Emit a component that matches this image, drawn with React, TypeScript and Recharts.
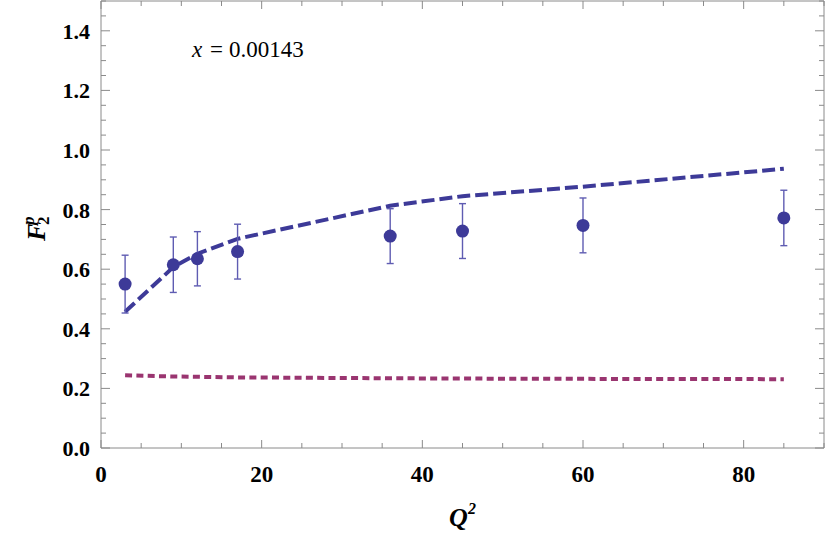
import {
  ComposedChart,
  Line,
  Scatter,
  ErrorBar,
  XAxis,
  YAxis,
  ReferenceLine,
} from "recharts";

const BLUE = "#3d3a98";
const BAR = "#5f5cb2";
const PLUM = "#9a3570";
const FRAME = "#8a8a8a";
const SERIF = "Liberation Serif, DejaVu Serif, Times New Roman, Times, serif";

// plot box in page pixels
const LEFT = 101;
const RIGHT = 824;
const TOP = 1;
const BOTTOM = 448;

const Q2 = [3, 9, 12, 17, 36, 45, 60, 85];
const F2 = [0.55, 0.615, 0.635, 0.659, 0.711, 0.728, 0.747, 0.772];
const F2_ERR = [0.097, 0.093, 0.091, 0.092, 0.092, 0.092, 0.092, 0.093];
const FIT = [0.457, 0.607, 0.652, 0.702, 0.813, 0.845, 0.877, 0.937];
const LOW = [0.244, 0.24, 0.239, 0.237, 0.234, 0.233, 0.232, 0.231];

const X_TICKS = [0, 5, 10, 15, 20, 25, 30, 35, 40, 45, 50, 55, 60, 65, 70, 75, 80, 85, 90];
const X_LABELS = [0, 20, 40, 60, 80];
const Y_TICKS = [
  0, 0.05, 0.1, 0.15, 0.2, 0.25, 0.3, 0.35, 0.4, 0.45, 0.5, 0.55, 0.6, 0.65, 0.7, 0.75,
  0.8, 0.85, 0.9, 0.95, 1.0, 1.05, 1.1, 1.15, 1.2, 1.25, 1.3, 1.35, 1.4, 1.45, 1.5,
];
const Y_LABELS = [0, 0.2, 0.4, 0.6, 0.8, 1.0, 1.2, 1.4];

const rows = Q2.map((q, i) => ({ q2: q, f2: F2[i], err: F2_ERR[i], fit: FIT[i], low: LOW[i] }));

const bold = { fontFamily: SERIF, fontWeight: 700 } as const;

function XTick(props: any) {
  const { x, payload } = props;
  const major = X_LABELS.includes(payload.value);
  const len = major ? 8 : 5;
  return (
    <g>
      <line x1={x} x2={x} y1={BOTTOM} y2={BOTTOM - len} stroke={FRAME} />
      <line x1={x} x2={x} y1={TOP} y2={TOP + len} stroke={FRAME} />
      {major && (
        <text x={x} y={BOTTOM + 34} textAnchor="middle" style={{ ...bold, fontSize: 23 }} fill="#000">
          {payload.value}
        </text>
      )}
    </g>
  );
}

function YTick(props: any) {
  const { y, payload } = props;
  const major = Y_LABELS.includes(payload.value);
  const len = major ? 9 : 5;
  return (
    <g>
      <line x1={LEFT} x2={LEFT + len} y1={y} y2={y} stroke={FRAME} />
      <line x1={RIGHT} x2={RIGHT - len} y1={y} y2={y} stroke={FRAME} />
      {major && (
        <text x={90} y={y + 8} textAnchor="end" style={{ ...bold, fontSize: 22 }} fill="#000">
          {payload.value.toFixed(1)}
        </text>
      )}
    </g>
  );
}

const Dot = (props: any) => <circle cx={props.cx} cy={props.cy} r={6.5} fill={BLUE} />;

export default function App() {
  return (
    <div style={{ position: "absolute", left: 0, top: 0, width: 830, height: 549, background: "#fff" }}>
      <ComposedChart width={830} height={549} data={rows} margin={{ top: TOP, right: 830 - RIGHT, bottom: 0, left: 0 }}>
        <XAxis
          dataKey="q2"
          type="number"
          domain={[0, 90]}
          ticks={X_TICKS}
          interval={0}
          height={549 - BOTTOM}
          tickLine={false}
          axisLine={{ stroke: FRAME }}
          tick={<XTick />}
        />
        <YAxis
          type="number"
          domain={[0, 1.5]}
          ticks={Y_TICKS}
          interval={0}
          width={LEFT}
          tickLine={false}
          axisLine={{ stroke: FRAME }}
          tick={<YTick />}
        />
        <ReferenceLine y={1.5} stroke={FRAME} ifOverflow="visible" />
        <ReferenceLine x={90} stroke={FRAME} ifOverflow="visible" />
        <Line dataKey="low" type="linear" stroke={PLUM} strokeWidth={4} strokeDasharray="7 4.3" dot={false} isAnimationActive={false} />
        <Line dataKey="fit" type="linear" stroke={BLUE} strokeWidth={4} strokeDasharray="13 5" dot={false} isAnimationActive={false} />
        <Scatter dataKey="f2" fill={BLUE} shape={<Dot />} isAnimationActive={false}>
          <ErrorBar dataKey="err" direction="y" width={3.5} stroke={BAR} strokeWidth={1.4} isAnimationActive={false} />
        </Scatter>
      </ComposedChart>
      <svg width={830} height={549} style={{ position: "absolute", left: 0, top: 0, pointerEvents: "none" }}>
        <text y={57} style={{ fontFamily: SERIF, fontSize: 23 }} fill="#000">
          <tspan x={192} style={{ fontStyle: "italic" }}>x</tspan>
          <tspan x={210}>=</tspan>
          <tspan x={229}>0.00143</tspan>
        </text>
        <g transform="translate(45,241) rotate(-90)" fill="#000">
          <text x={0} y={0} style={{ ...bold, fontSize: 26, fontStyle: "italic" }}>F</text>
          <text x={16} y={-11} style={{ ...bold, fontSize: 17, fontStyle: "italic" }}>p</text>
          <text x={16} y={4} style={{ ...bold, fontSize: 17 }}>2</text>
        </g>
        <text y={526} style={{ ...bold, fontStyle: "italic" }} fill="#000">
          <tspan x={449} style={{ fontSize: 26 }}>Q</tspan>
          <tspan x={468} y={514} style={{ fontSize: 16 }}>2</tspan>
        </text>
      </svg>
    </div>
  );
}
